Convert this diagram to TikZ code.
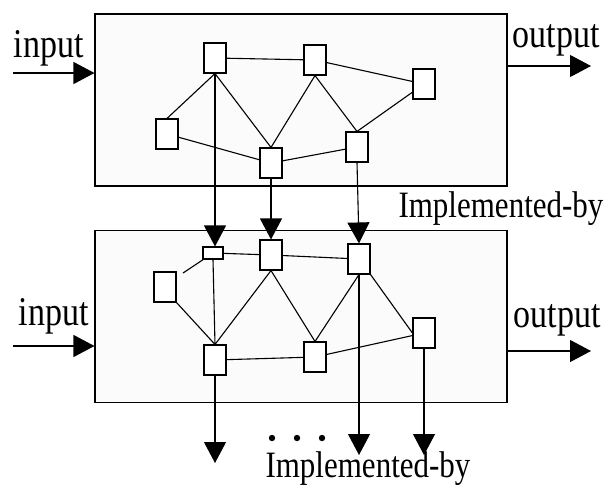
\documentclass[tikz,border=0pt]{standalone}
\usepackage{fontspec}
\setmainfont{Liberation Serif}
\usetikzlibrary{arrows.meta}

\tikzstyle{layer} = [rectangle, draw, fill=gray!3, minimum width=412pt, minimum height=172pt, inner sep=0pt]
\tikzstyle{unit} = [rectangle, draw, fill=white, minimum width=22pt, minimum height=30pt, inner sep=0pt]
\tikzstyle{flat} = [rectangle, draw, fill=white, minimum width=20pt, minimum height=12pt, inner sep=0pt]
\tikzstyle{lbl} = [inner sep=0pt, anchor=base west, font=\fontsize{34}{34}\selectfont, transform shape, yscale=1.2]
\tikzstyle{impl} = [lbl, font=\fontsize{31}{31}\selectfont]
\tikzstyle{flow} = [-{Triangle[length=21pt,width=22pt]}]

\begin{document}
\begin{tikzpicture}[x=1pt, y=-1pt, line width=1.1pt]
\useasboundingbox (0,0) rectangle (607,485);

% upper level
\node [layer] (top) at (301,100) {};

\node [unit] (A) at (215,58) {};
\node [unit] (B) at (315,60) {};
\node [unit] (C) at (424,84) {};
\node [unit] (D) at (167,134) {};
\node [unit] (E) at (271,163) {};
\node [unit] (F) at (357,147) {};

\draw (A) -- (B);
\draw (B) -- (C);
\draw (A.south) -- (D.north);
\draw (A.south) -- (E.north);
\draw (B.south) -- (E.north);
\draw (B.south) -- (F.north);
\draw (C) -- (F.north);
\draw (D) -- (E);
\draw (E) -- (F);

% lower level
\node [layer] (bot) at (301,316.5) {};

\node [flat] (a) at (213,253) {};
\node [unit] (b) at (271,255) {};
\node [unit] (c) at (359,259) {};
\node [unit] (d) at (165,287) {};
\node [unit] (e) at (215,360) {};
\node [unit] (f) at (315,357) {};
\node [unit] (g) at (424,333) {};

\coordinate (stub) at (183,273);

\draw (stub) -- (a);
\draw (a) -- (b);
\draw (b) -- (c);
\draw (a.south) -- (e.north);
\draw (d.south east) -- (e.north);
\draw (b.south) -- (e.north);
\draw (b.south) -- (f.north);
\draw (c.south) -- (f.north);
\draw (c.south east) -- (g.west);
\draw (e) -- (f);
\draw (f) -- (g);

% implemented-by arrows
\draw [flow] (A.south) -- (A.south |- a.north);
\draw [flow] (E.south) -- (b.north);
\draw [flow] (F.south) -- (c.north);

\coordinate (out1) at (215,463);
\coordinate (out2) at (361,455);
\coordinate (out3) at (429,455);
\draw [flow] (e.south) -- (out1);
\draw [flow] (c.south) -- (c.south |- out2);
\draw [flow] (g.south) -- (g.south |- out3);

\foreach \x in {272,297,322}
  \fill (\x,438) circle (3.2pt);

% inputs and outputs
\coordinate (in1) at (13,73);
\coordinate (in2) at (13,346);
\coordinate (res1) at (591,66);
\coordinate (res2) at (591,351);
\draw [flow] (in1) -- (in1 -| top.west);
\draw [flow] (in2) -- (in2 -| bot.west);
\draw [flow] (res1 -| top.east) -- (res1);
\draw [flow] (res2 -| bot.east) -- (res2);

\node [lbl] (inlbl1) at (13,57) {input};
\node [lbl] (outlbl1) at (512,47) {output};
\node [lbl] (inlbl2) at (18,325) {input};
\node [lbl] (outlbl2) at (513,327) {output};
\node [impl] (impl1) at (398,217) {Implemented-by};
\node [impl] (impl2) at (265,477) {Implemented-by};

\end{tikzpicture}
\end{document}
